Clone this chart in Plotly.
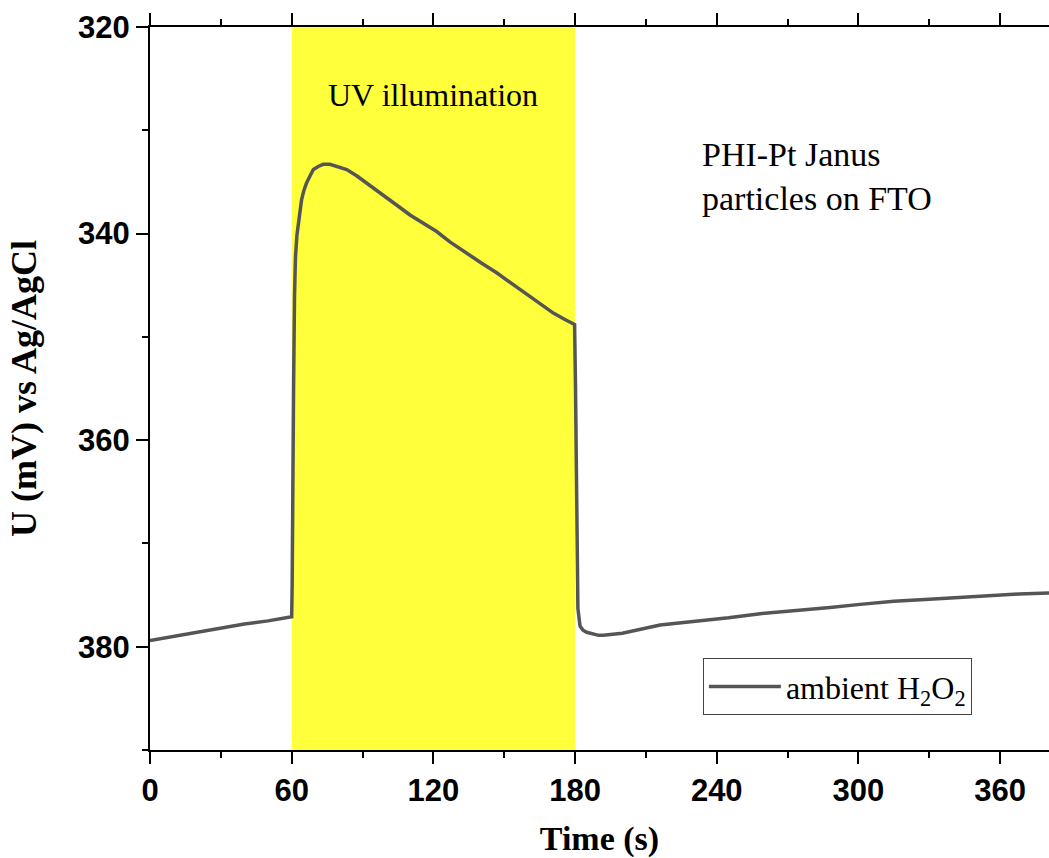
import plotly.graph_objects as go

# Time (s)
time_s = [0, 10, 20, 30, 40, 50, 60, 60.2, 60.5, 60.8, 61.2, 61.6, 62.2, 62.8, 63.5, 64.2,
          65.2, 66.3, 67.8, 69.2, 71.2, 73.4, 76.2, 79.5, 83.3, 87.5, 91.8, 96.5, 101.6,
          106, 110.1, 115.5, 121.4, 127, 132.7, 140, 146.8, 154, 160.9, 166, 170.8, 175.5,
          179.8, 180.2, 180.5, 180.8, 181.2, 182.1, 183.4, 184.9, 187.7, 190, 192, 195,
          200, 216, 230, 245, 258.4, 275, 288, 300.7, 315, 330, 343, 355, 368, 380.7]
# Potential U (mV) vs Ag/AgCl
potential_mv = [379.4, 379.0, 378.6, 378.2, 377.8, 377.5, 377.1, 374.0, 368.0, 355.0, 346.0,
                342.3, 340.2, 339.0, 337.8, 336.7, 335.8, 335.1, 334.4, 333.8, 333.5, 333.3,
                333.3, 333.5, 333.8, 334.4, 335.1, 335.9, 336.7, 337.5, 338.2, 339.0, 339.8,
                340.8, 341.7, 342.8, 343.8, 345.0, 346.1, 347.0, 347.7, 348.3, 348.8, 355.0,
                365.0, 372.0, 376.3, 378.0, 378.4, 378.6, 378.8, 378.9, 378.9, 378.85,
                378.7, 377.9, 377.6, 377.2, 376.8, 376.5, 376.2, 375.9, 375.6, 375.4,
                375.2, 375.05, 374.9, 374.8]

series_name = "ambient H<sub>2</sub>O<sub>2</sub>"
uv_start, uv_end = 60, 180
x_ticks = [0, 60, 120, 180, 240, 300, 360]
y_ticks = [320, 340, 360, 380]

fig = go.Figure()
fig.add_trace(go.Scatter(
    x=time_s, y=potential_mv, mode="lines", name=series_name,
    line=dict(color="#555555", width=3.5),
))

fig.add_shape(type="rect", xref="x", yref="paper", x0=uv_start, x1=uv_end, y0=0, y1=1,
              fillcolor="#ffff3c", line=dict(width=0), layer="below")

serif = "Liberation Serif"
sans = "Liberation Sans"

fig.add_annotation(x=120, y=326.6, xref="x", yref="y", text="UV illumination",
                   showarrow=False, font=dict(family=serif, size=32, color="black"))
fig.add_annotation(x=233, y=334.5, xref="x", yref="y", xanchor="left", yanchor="middle",
                   align="left", text="PHI-Pt Janus<br>particles on FTO",
                   showarrow=False, font=dict(family=serif, size=34, color="black"))

fig.update_layout(
    width=1049, height=858,
    margin=dict(l=150, r=0, t=27, b=108),
    plot_bgcolor="white", paper_bgcolor="white",
    showlegend=True,
    legend=dict(x=0.615, y=0.127, xanchor="left", yanchor="top",
                bordercolor="#444444", borderwidth=1, bgcolor="white",
                itemwidth=72,
                font=dict(family=serif, size=32, color="black")),
    xaxis=dict(
        range=[0, 380.7], tickvals=x_ticks, ticks="outside", ticklen=12, tickwidth=2,
        tickcolor="black", showline=True, linecolor="black", linewidth=2, mirror="ticks",
        showgrid=False, zeroline=False,
        tickfont=dict(family=sans, size=31, color="black", weight="bold"),
        minor=dict(dtick=30, tick0=0, ticks="outside", ticklen=6, tickwidth=2, tickcolor="black"),
        title=dict(text="Time (s)", standoff=39,
                   font=dict(family=serif, size=34, color="black", weight="bold")),
        automargin=False,
    ),
    yaxis=dict(
        range=[390, 320], tickvals=y_ticks, ticks="outside", ticklen=12, tickwidth=2,
        tickcolor="black", showline=True, linecolor="black", linewidth=2,
        showgrid=False, zeroline=False,
        tickfont=dict(family=sans, size=31, color="black", weight="bold"),
        minor=dict(dtick=10, tick0=320, ticks="outside", ticklen=6, tickwidth=2, tickcolor="black"),
        title=dict(text="U (mV) vs Ag/AgCl", standoff=30,
                   font=dict(family=serif, size=36, color="black", weight="bold")),
        automargin=False,
    ),
)

fig.write_html("out.html", config={"displayModeBar": False},
               post_script="document.body.style.margin='0';")
